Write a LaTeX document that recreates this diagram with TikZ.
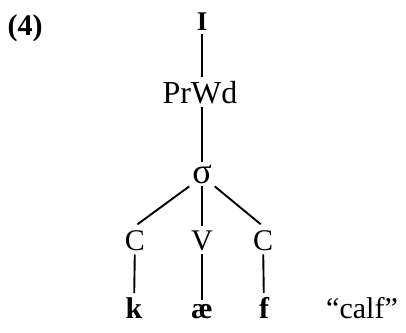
\documentclass[tikz,border=0pt]{standalone}
\usepackage{fontspec}
\setmainfont{Liberation Serif}
\begin{document}
\begin{tikzpicture}[x=1pt,y=-1pt,
  lab/.style={anchor=base, inner sep=0pt, outer sep=4pt, font=\fontsize{30}{36}\selectfont},
  blab/.style={lab, font=\fontsize{30}{36}\selectfont\bfseries},
  branch/.style={line width=1.9pt}]
\useasboundingbox (0,0) rectangle (406,332);

% example number
\node[blab] (num) at (25,35) {(4)};

% prosodic tree
\node[blab, font=\fontsize{27}{32}\selectfont\bfseries] (top) at (202,30) {I};
\node[lab, font=\fontsize{32}{38}\selectfont] (prwd) at (200,103) {PrWd};
\node[lab, font=\fontsize{36}{42}\selectfont, outer sep=3pt] (syl) at (202,183) {σ};
\node[lab] (c1) at (135,250) {C};
\node[lab] (v) at (202,250) {V};
\node[lab] (c2) at (263,250) {C};

% segments
\node[blab] (k) at (134,318) {k};
\node[blab] (ae) at (202,318) {æ};
\node[blab] (f) at (264,318) {f};
\node[lab] (gloss) at (362,318) {“calf”};

% association lines
\draw[branch] (top) -- (top |- prwd.north);
\draw[branch] (prwd.south -| syl) -- (syl);
\draw[branch, shorten >=3pt] (syl.south west) -- (c1.north);
\draw[branch] (syl) -- (v);
\draw[branch, shorten >=3pt] (syl.south east) -- (c2.north);
\draw[branch] (c1) -- (k);
\draw[branch] (v) -- (ae);
\draw[branch] (c2) -- (f);
\end{tikzpicture}
\end{document}
